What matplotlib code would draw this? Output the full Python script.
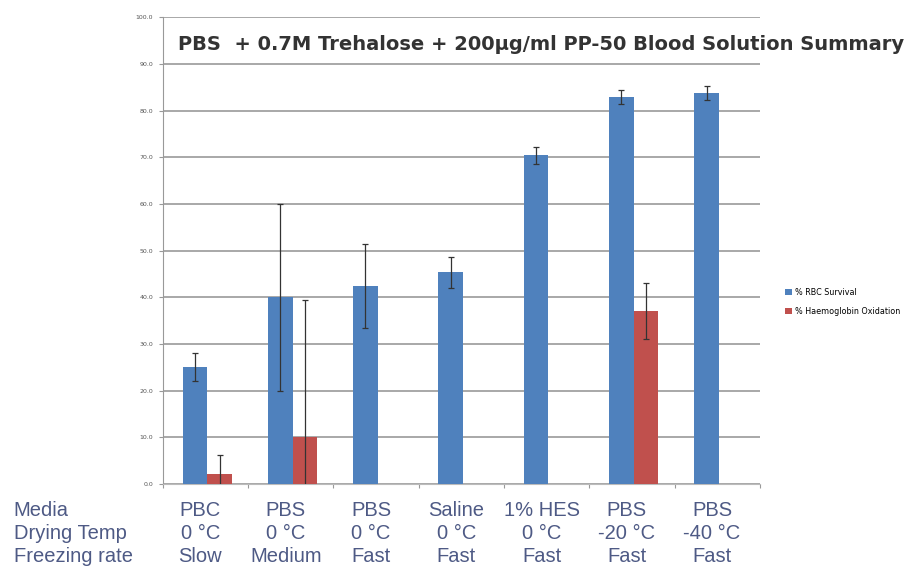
import numpy as np
import matplotlib.pyplot as plt

# blood solution survival summary
media = ["PBC", "PBS", "PBS", "Saline", "1% HES", "PBS", "PBS"]
drying_temp = ["0 \u00b0C", "0 \u00b0C", "0 \u00b0C", "0 \u00b0C", "0 \u00b0C", "-20 \u00b0C", "-40 \u00b0C"]
freezing_rate = ["Slow", "Medium", "Fast", "Fast", "Fast", "Fast", "Fast"]

rbc_survival = [25.0, 40.0, 42.4, 45.4, 70.4, 82.9, 83.7]
rbc_err = [3.0, 20.0, 9.0, 3.3, 1.9, 1.5, 1.5]
hb_oxidation = [2.1, 10.0, 0.0, 0.0, 0.0, 37.0, 0.0]
hb_err = [4.1, 29.5, 0.0, 0.0, 0.0, 6.0, 0.0]

yticks = np.arange(0, 101, 10)

blue = "#4F81BD"
red = "#C0504D"
label_col = "#4e5a85"

fig = plt.figure(figsize=(9.1, 5.75), dpi=100)
ax = fig.add_axes([0.179, 0.158, 0.656, 0.812])

x = np.arange(len(media))
w = 0.29
ekw = dict(ecolor="#333333", elinewidth=0.9, capsize=2.5, capthick=0.9)

hb_mask = np.array(hb_oxidation) > 0
ax.bar(x - w / 2 + 0.02, rbc_survival, w, color=blue, yerr=rbc_err,
       error_kw=ekw, label="% RBC Survival", zorder=3)
ax.bar(x + w / 2 + 0.02, hb_oxidation, w, color=red,
       yerr=np.where(hb_mask, hb_err, np.nan),
       error_kw=ekw, label="% Haemoglobin Oxidation", zorder=3)

ax.set_xlim(-0.5, len(media) - 0.5)
ax.set_ylim(0, 100)
ax.set_yticks(yticks)
ax.set_yticklabels([f"{v:.1f}" for v in yticks], fontsize=4.5, color="#555555")
ax.yaxis.grid(True, color="#a8a8a8", linewidth=1.4, zorder=0)
ax.set_axisbelow(True)

ax.set_xticks(np.arange(-0.5, len(media)), labels=[])
ax.tick_params(axis="x", length=3, color="#999999")
ax.tick_params(axis="y", length=3, color="#999999", pad=4)
for side in ["top", "right"]:
    ax.spines[side].set_visible(False)
ax.spines["left"].set_color("#999999")
ax.spines["bottom"].set_color("#bbbbbb")

fig.text(0.196, 0.922, "PBS  + 0.7M Trehalose + 200\u03bcg/ml PP-50 Blood Solution Summary",
         fontsize=14, fontweight="bold", color="#333333", va="center",
         bbox=dict(facecolor="white", edgecolor="none", pad=1))

# condition table under the bars
rows = [("Media", media), ("Drying Temp", drying_temp), ("Freezing rate", freezing_rate)]
row_y = [0.113, 0.073, 0.033]
for (name, vals), yy in zip(rows, row_y):
    fig.text(0.015, yy, name, fontsize=14.5, family="Liberation Sans",
             color=label_col, va="center")
    for i, v in enumerate(vals):
        xf = ax.transData.transform((i - 0.06, 0))[0] / fig.bbox.width
        fig.text(xf, yy, v, fontsize=14.5, family="Liberation Sans",
                 color=label_col, va="center", ha="center")

fig.legend(loc="center left", bbox_to_anchor=(0.855, 0.475), fontsize=5.8,
           frameon=False, handlelength=0.8, handleheight=0.8, labelspacing=1.3,
           handletextpad=0.4)

fig.savefig("out.png", dpi=100)
